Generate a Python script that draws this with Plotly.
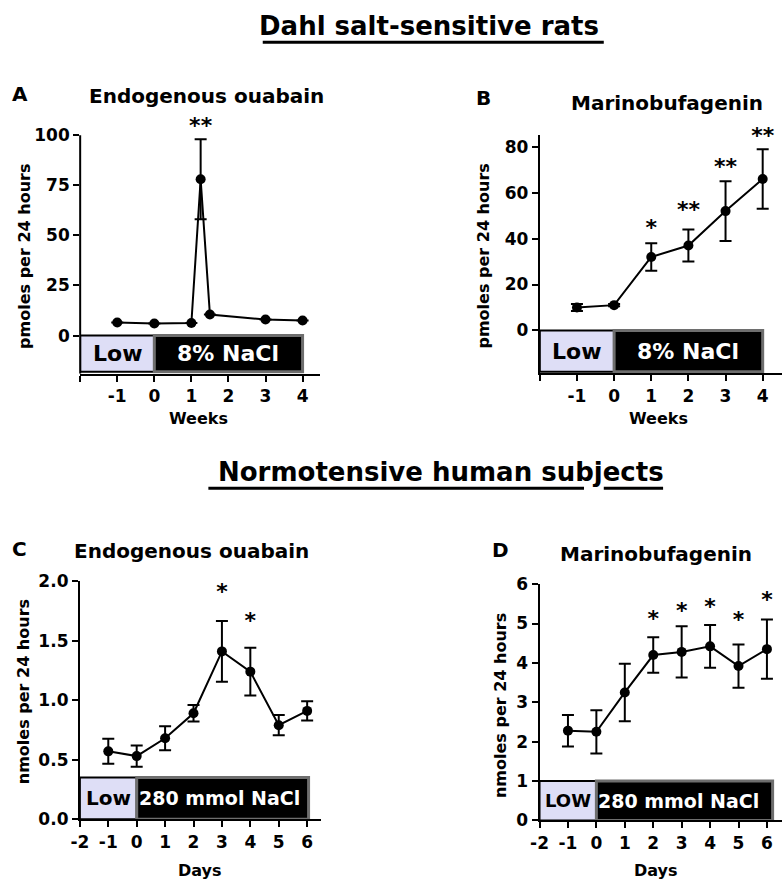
import plotly.graph_objects as go

# ---------------- data ----------------
# Panel A: Dahl rats, endogenous ouabain (pmoles/24h)
a_weeks = [-1, 0, 1, 1.25, 1.5, 3, 4]
a_vals = [6.5, 6.0, 6.3, 78, 10.5, 8.0, 7.5]
a_err = [0, 0, 0, 20, 0, 0, 0]
a_star_x = [1.25]
a_star_y = [104]
a_star_txt = ["**"]

# Panel B: Dahl rats, marinobufagenin (pmoles/24h)
b_weeks = [-1, 0, 1, 2, 3, 4]
b_vals = [10, 11, 32, 37, 52, 66]
b_err = [1.5, 0.5, 6, 7, 13, 13]
b_star_x = [1, 2, 3, 4]
b_star_y = [44, 52, 70.5, 84]
b_star_txt = ["*", "**", "**", "**"]

# Panel C: humans, endogenous ouabain (nmoles/24h)
c_days = [-1, 0, 1, 2, 3, 4, 5, 6]
c_vals = [0.57, 0.53, 0.68, 0.89, 1.41, 1.24, 0.79, 0.91]
c_err = [0.105, 0.09, 0.10, 0.07, 0.255, 0.20, 0.085, 0.08]
c_star_x = [3, 4]
c_star_y = [1.90, 1.65]
c_star_txt = ["*", "*"]

# Panel D: humans, marinobufagenin (nmoles/24h)
d_days = [-1, 0, 1, 2, 3, 4, 5, 6]
d_vals = [2.28, 2.25, 3.25, 4.2, 4.28, 4.42, 3.92, 4.35]
d_err = [0.4, 0.55, 0.73, 0.45, 0.65, 0.54, 0.55, 0.75]
d_star_x = [2, 3, 4, 5, 6]
d_star_y = [5.08, 5.28, 5.38, 5.06, 5.57]
d_star_txt = ["*", "*", "*", "*", "*"]

week_ticks = [-2, -1, 0, 1, 2, 3, 4]
week_labels = ["", "-1", "0", "1", "2", "3", "4"]
day_ticks = [-2, -1, 0, 1, 2, 3, 4, 5, 6]
day_labels = ["-2", "-1", "0", "1", "2", "3", "4", "5", "6"]

FONT = "DejaVu Sans, sans-serif"
W, H = 782, 893


def px(x):
    return x / W


def py(y):
    return 1 - y / H


fig = go.Figure()

panels = [
    (a_weeks, a_vals, a_err, a_star_x, a_star_y, a_star_txt, ""),
    (b_weeks, b_vals, b_err, b_star_x, b_star_y, b_star_txt, "2"),
    (c_days, c_vals, c_err, c_star_x, c_star_y, c_star_txt, "3"),
    (d_days, d_vals, d_err, d_star_x, d_star_y, d_star_txt, "4"),
]

for xs, ys, es, sx, sy, st, k in panels:
    fig.add_trace(go.Scatter(
        x=xs, y=ys, mode="lines+markers",
        line=dict(color="black", width=2),
        marker=dict(color="black", size=10),
        error_y=dict(type="data", array=es, visible=True, color="black",
                     thickness=2, width=6),
        cliponaxis=False, showlegend=False, hoverinfo="skip",
        xaxis="x" + k, yaxis="y" + k,
    ))
    fig.add_trace(go.Scatter(
        x=sx, y=sy, mode="text", text=st,
        textfont=dict(family=FONT, size=22, color="black", weight="bold"),
        cliponaxis=False, showlegend=False, hoverinfo="skip",
        xaxis="x" + k, yaxis="y" + k,
    ))

axis_common = dict(
    showline=True, linecolor="black", linewidth=2, ticks="outside",
    ticklen=6, tickwidth=2, tickcolor="black", showgrid=False,
    zeroline=False, mirror=False,
    tickfont=dict(family=FONT, size=17, color="black", weight="bold"),
)
yA = dict(axis_common)
yA["showline"] = False

layout = dict(
    width=W, height=H, margin=dict(l=0, r=0, t=0, b=0),
    paper_bgcolor="white", plot_bgcolor="white", showlegend=False,
    xaxis=dict(domain=[px(72), px(315)], range=[-2, 4.48], anchor="y",
               tickvals=week_ticks, ticktext=week_labels, **axis_common),
    yaxis=dict(domain=[py(372), py(111.6)], range=[-19, 108], anchor="x",
               tickvals=[0, 25, 50, 75, 100], **yA),
    xaxis2=dict(domain=[px(537), px(782)], range=[-2, 4.52], anchor="y2",
                tickvals=week_ticks, ticktext=week_labels, **axis_common),
    yaxis2=dict(domain=[py(371.7), py(128.3)], range=[-18.75, 85], anchor="x2",
                tickvals=[0, 20, 40, 60, 80], **axis_common),
    xaxis3=dict(domain=[px(71.7), px(316)], range=[-2, 6.5], anchor="y3",
                tickvals=day_ticks, ticktext=day_labels, **axis_common),
    yaxis3=dict(domain=[py(827.7), py(584.3)], range=[0, 2], anchor="x3",
                tickvals=[0, 0.5, 1, 1.5, 2], ticktext=["0.0", "0.5", "1.0", "1.5", "2.0"],
                **axis_common),
    xaxis4=dict(domain=[px(536.7), px(782)], range=[-2, 6.53], anchor="y4",
                tickvals=day_ticks, ticktext=day_labels, **axis_common),
    yaxis4=dict(domain=[py(829), py(587.3)], range=[0, 6], anchor="x4",
                tickvals=[0, 1, 2, 3, 4, 5, 6], **axis_common),
)
fig.update_layout(**layout)

LAV = "#dedef6"
shapes = []
annotations = []

# y-axis line of panel A stops at 100
shapes.append(dict(type="line", xref="x domain", yref="y", x0=0, x1=0, y0=-19, y1=100,
                   line=dict(color="black", width=2), layer="above"))


def diet_boxes(k, y0, y1, xend, low_txt, salt_txt, salt_x, fsize, lsize):
    shapes.append(dict(type="rect", xref="x" + k, yref="y" + k, x0=-2, x1=0,
                       y0=y0, y1=y1, fillcolor=LAV, line=dict(color="black", width=2),
                       layer="below"))
    shapes.append(dict(type="rect", xref="x" + k, yref="y" + k, x0=0, x1=xend,
                       y0=y0, y1=y1, fillcolor="black", line=dict(color="#6e6e6e", width=3),
                       layer="below"))
    annotations.append(dict(xref="x" + k, yref="y" + k, x=-1, y=(y0 + y1) / 2,
                            text=low_txt, showarrow=False,
                            font=dict(family=FONT, size=lsize, color="black", weight="bold")))
    annotations.append(dict(xref="x" + k, yref="y" + k, x=salt_x, y=(y0 + y1) / 2,
                            text=salt_txt, showarrow=False,
                            font=dict(family=FONT, size=fsize, color="white", weight="bold")))


diet_boxes("", 0, -18, 4, "Low", "8% NaCl", 2, 22, 22)
diet_boxes("2", 0, -18, 4, "Low", "8% NaCl", 2, 22, 22)
diet_boxes("3", 0, 0.35, 6.05, "Low", "280 mmol NaCl", 2.9, 19, 20)
diet_boxes("4", 0, 1.0, 6.2, "LOW", "280 mmol NaCl", 2.9, 19, 18)


def txt(x, y, s, size, angle=0):
    annotations.append(dict(xref="paper", yref="paper", x=px(x), y=py(y), text=s,
                            showarrow=False, textangle=angle, xanchor="center",
                            yanchor="middle",
                            font=dict(family=FONT, size=size, color="black", weight="bold")))


# big section titles
txt(424.5, 16, "Dahl salt-sensitive rats", 26)
txt(436.7, 473, "Normotensive human subjects", 26)
shapes.append(dict(type="line", xref="paper", yref="paper", x0=px(256.7), x1=px(601.7),
                   y0=py(33), y1=py(33), line=dict(color="black", width=3)))
shapes.append(dict(type="line", xref="paper", yref="paper", x0=px(201.7), x1=px(581.7),
                   y0=py(489.3), y1=py(489.3), line=dict(color="black", width=3)))
shapes.append(dict(type="line", xref="paper", yref="paper", x0=px(601.7), x1=px(661.7),
                   y0=py(489.3), y1=py(489.3), line=dict(color="black", width=3)))

# panel letters
txt(11, 86, "A", 20)
txt(480, 90, "B", 20)
txt(11, 551, "C", 20)
txt(497, 552, "D", 20)

# panel titles
txt(200, 88, "Endogenous ouabain", 20)
txt(665.7, 95, "Marinobufagenin", 20)
txt(185, 553, "Endogenous ouabain", 20)
txt(655, 556.7, "Marinobufagenin", 20)

# axis titles
txt(15, 251.7, "pmoles per 24 hours", 16, -90)
txt(480, 251.7, "pmoles per 24 hours", 16, -90)
txt(15, 697, "nmoles per 24 hours", 16, -90)
txt(496.7, 711, "nmoles per 24 hours", 16, -90)
txt(191.7, 418.3, "Weeks", 16)
txt(657, 418, "Weeks", 16)
txt(193, 880, "Days", 16)
txt(655, 880, "Days", 16)

fig.update_layout(shapes=shapes, annotations=annotations, hovermode=False)
fig.write_html("out.html", config={"displayModeBar": False, "staticPlot": True},
               post_script="document.body.style.margin='0px';document.body.style.overflow='hidden';")
